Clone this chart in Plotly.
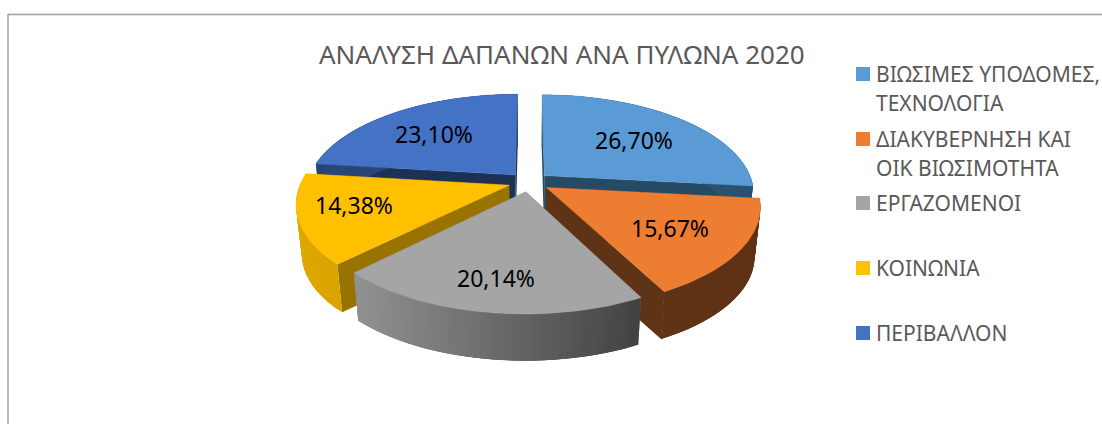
import math
import plotly.graph_objects as go

# ---- data ----
title = "ΑΝΑΛΥΣΗ ΔΑΠΑΝΩΝ ΑΝΑ ΠΥΛΩΝΑ 2020"
categories = ["ΒΙΩΣΙΜΕΣ ΥΠΟΔΟΜΕΣ,\nΤΕΧΝΟΛΟΓΙΑ", "ΔΙΑΚΥΒΕΡΝΗΣΗ ΚΑΙ\nΟΙΚ ΒΙΩΣΙΜΟΤΗΤΑ",
              "ΕΡΓΑΖΟΜΕΝΟΙ", "ΚΟΙΝΩΝΙΑ", "ΠΕΡΙΒΑΛΛΟΝ"]
values = [26.70, 15.67, 20.14, 14.38, 23.10]
value_labels = ["26,70%", "15,67%", "20,14%", "14,38%", "23,10%"]

# ---- styles ----
top_colors = ["#5B9BD5", "#ED7D31", "#A5A5A5", "#FFC000", "#4472C4"]
radial_colors = ["#254A63", "#5F3315", "#6e6e6e", "#997300", "#1D3156"]
wall_left = [(0x3a, 0x62, 0x80), (0x60, 0x33, 0x15), (0x92, 0x92, 0x92), (0xDE, 0xA8, 0x00), (0x2a, 0x45, 0x78)]
wall_right = [(0x2a, 0x50, 0x6c), (0x5e, 0x32, 0x14), (0x42, 0x42, 0x42), (0xDA, 0xA4, 0x00), (0x2a, 0x45, 0x78)]
label_pos = [(634, 140), (670, 228), (496, 278), (354, 205), (434, 134)]
legend_y = [74, 139, 203, 268, 333]
draw_order = [4, 0, 3, 1, 2]

CX, CY, CY_B = 529, 182, 232
A, B, K, E, SHRINK = 208, 97, 0.175, 0.10, 0.975
TEXT_GREY = "#595959"
FONT = "Noto Sans"


def project(u, v):
    s = 1 / (1 + K * v)
    return CX + A * u * s, CY - B * v * s


def lower(p):
    return CX + (p[0] - CX) * SHRINK, CY_B + (p[1] - CY) * SHRINK


def poly(fig, pts, color, lw=0.0):
    xs = [p[0] for p in pts] + [pts[0][0]]
    ys = [p[1] for p in pts] + [pts[0][1]]
    fig.add_trace(go.Scatter(x=xs, y=ys, mode="lines", fill="toself", fillcolor=color,
                             line=dict(color=color, width=lw), hoverinfo="skip", showlegend=False))


total = sum(values)
starts = []
acc = 0.0
for val in values:
    starts.append(acc)
    acc += val

fig = go.Figure()
N = 48
for i in draw_order:
    t0 = starts[i] / total * 2 * math.pi
    t1 = (starts[i] + values[i]) / total * 2 * math.pi
    mid = (t0 + t1) / 2
    ou, ov = E * math.sin(mid), E * math.cos(mid)
    apex = project(ou, ov)
    rim = [project(ou + math.sin(t0 + (t1 - t0) * j / N), ov + math.cos(t0 + (t1 - t0) * j / N))
           for j in range(N + 1)]
    # radial cut walls
    poly(fig, [apex, rim[0], lower(rim[0]), lower(apex)], radial_colors[i])
    poly(fig, [apex, rim[-1], lower(rim[-1]), lower(apex)], radial_colors[i])
    # outer wall, shaded along the screen x; neighbouring quads overlap to hide seams
    xmin, xmax = min(p[0] for p in rim), max(p[0] for p in rim)
    for j in range(N):
        f = ((rim[j][0] + rim[j + 1][0]) / 2 - xmin) / max(xmax - xmin, 1)
        c = [round(a + (b - a) * f) for a, b in zip(wall_left[i], wall_right[i])]
        k = min(j + 3, N)
        poly(fig, [rim[j], *rim[j + 1:k + 1], lower(rim[k]), lower(rim[j])], "rgb(%d,%d,%d)" % tuple(c))
    # top face
    poly(fig, [apex] + rim, top_colors[i], 0.5)

annotations = [dict(x=562, y=54, text=title, showarrow=False, xanchor="center", yanchor="middle",
                    font=dict(family=FONT, size=26, color=TEXT_GREY))]
for lab, (x, y) in zip(value_labels, label_pos):
    annotations.append(dict(x=x, y=y, text=lab, showarrow=False, xanchor="center", yanchor="middle",
                            font=dict(family=FONT, size=23, color="#000000")))
for cat, y in zip(categories, legend_y):
    for k, line in enumerate(cat.split("\n")):
        annotations.append(dict(x=874, y=y + k * 28.5, text=line, showarrow=False, xanchor="left",
                                yanchor="middle",
                                font=dict(family=FONT, size=21, color=TEXT_GREY)))

fig.add_trace(go.Scatter(x=[863] * len(legend_y), y=legend_y, mode="markers",
                         marker=dict(symbol="square", size=14, color=top_colors, line=dict(width=0)),
                         hoverinfo="skip", showlegend=False))

shapes = [
    dict(type="line", x0=8, x1=8, y0=14, y1=424, line=dict(color="#A0A0A0", width=1.5)),
    dict(type="line", x0=8, x1=1102, y0=14.5, y1=14.5, line=dict(color="#A0A0A0", width=1.5)),
]

fig.update_layout(
    width=1102, height=424, margin=dict(l=0, r=0, t=0, b=0),
    paper_bgcolor="white", plot_bgcolor="white", showlegend=False,
    xaxis=dict(range=[0, 1102], visible=False, fixedrange=True),
    yaxis=dict(range=[424, 0], visible=False, fixedrange=True),
    annotations=annotations, shapes=shapes,
)
fig.write_html("out.html", config={"displayModeBar": False},
               post_script="document.body.style.margin='0';document.body.style.overflow='hidden';")
